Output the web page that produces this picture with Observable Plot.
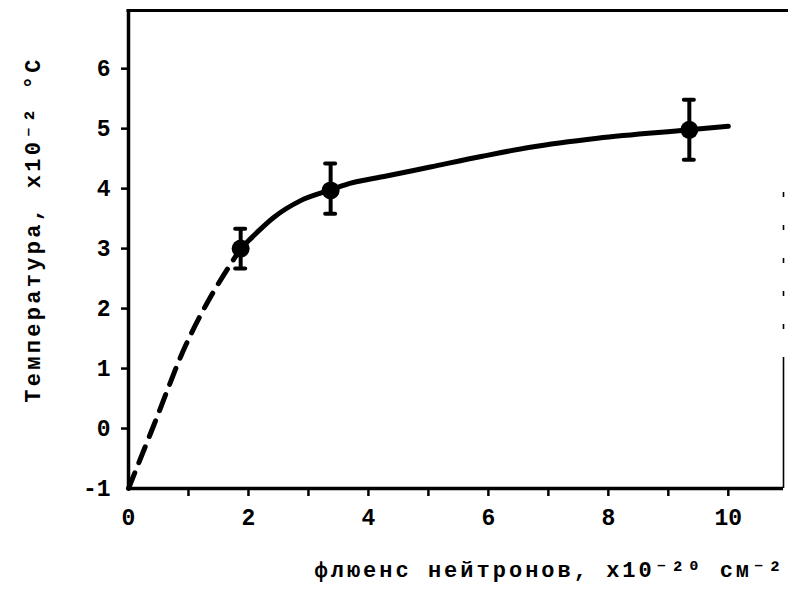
<!DOCTYPE html>
<html>
<head>
<meta charset="utf-8">
<script src="https://cdn.jsdelivr.net/npm/d3@7"></script>
<script src="https://cdn.jsdelivr.net/npm/@observablehq/plot@0.6"></script>
<style>
  html, body { margin: 0; padding: 0; background: #fff; }
  #chart { width: 788px; height: 593px; }
  .xlab text { letter-spacing: 3px; }
  .ylab text { letter-spacing: 3.3px; }
</style>
</head>
<body>
<div id="chart"></div>
<script>
// Measured points with error bars
const pointX = [1.87, 3.37, 9.35];
const pointY = [3.0, 3.97, 4.98];
const errLow = [2.67, 3.58, 4.48];
const errHigh = [3.33, 4.42, 5.48];

// Dashed (extrapolated) part of the curve
const dashX = [0, 0.42, 0.95, 1.4, 1.87];
const dashY = [-1, 0.05, 1.38, 2.25, 3.0];

// Solid fitted curve
const solidX = [1.87, 2.0, 2.42, 2.87, 3.37, 3.6, 4.3, 5.03, 5.9, 6.7, 7.82, 9.35, 10.0];
const solidY = [3.0, 3.13, 3.52, 3.8, 3.98, 4.06, 4.21, 4.36, 4.54, 4.69, 4.84, 4.98, 5.04];

// Axis ticks
const xMinorTicks = [1, 2, 3, 4, 5, 6, 7, 8, 9, 10];
const xTickLabels = [0, 2, 4, 6, 8, 10];
const yTicks = [0, 1, 2, 3, 4, 5, 6];
const yTickLabels = [-1, 0, 1, 2, 3, 4, 5, 6];

const xLabel = "флюенс нейтронов, x10⁻²⁰ см⁻²";
const yLabel = "Температура, x10⁻² °С";

const points = pointX.map((x, i) => ({x, y: pointY[i], lo: errLow[i], hi: errHigh[i]}));
const dash = dashX.map((x, i) => ({x, y: dashY[i]}));
const solid = solidX.map((x, i) => ({x, y: solidY[i]}));

const font = "'Liberation Mono', 'DejaVu Sans Mono', monospace";

const chart = Plot.plot({
  width: 788,
  height: 593,
  marginLeft: 128,
  marginRight: 5,
  marginTop: 10,
  marginBottom: 105,
  x: {domain: [0, 10.92], label: null},
  y: {domain: [-1, 6.97], label: null},
  style: {fontFamily: font, background: "white", color: "black"},
  marks: [
    // frame
    Plot.ruleY([-1], {strokeWidth: 3.5}),
    Plot.ruleX([0], {y1: -1, y2: 6.97, strokeWidth: 3.5}),
    Plot.ruleY([6.97], {strokeWidth: 3, insetRight: -6, insetLeft: -1.5}),
    Plot.ruleX([10.92], {y1: -1, y2: 1.1, strokeWidth: 1.6}),
    Plot.ruleX([10.92], {y1: 1.1, y2: 4.4, strokeWidth: 1.6, strokeDasharray: "5,28"}),
    // ticks
    Plot.axisX({ticks: xMinorTicks, tickSize: 8, tickFormat: () => "", strokeWidth: 2.5, label: null}),
    Plot.axisX({ticks: xTickLabels, tickSize: 0, tickPadding: 20, fontSize: 23, fontWeight: "bold", tickFormat: d => String(d), label: null}),
    Plot.axisY({ticks: yTicks, tickSize: 7, tickFormat: () => "", strokeWidth: 2.5, label: null}),
    Plot.axisY({ticks: yTickLabels, tickSize: 0, tickPadding: 18, fontSize: 23, fontWeight: "bold", tickFormat: d => String(d), label: null}),
    // curves
    Plot.line(dash, {x: "x", y: "y", curve: "catmull-rom", strokeWidth: 5, strokeDasharray: "17,11", strokeLinecap: "round"}),
    Plot.line(solid, {x: "x", y: "y", curve: "monotone-x", strokeWidth: 5, strokeLinecap: "round"}),
    // error bars
    Plot.ruleX(points, {x: "x", y1: "lo", y2: "hi", strokeWidth: 4}),
    Plot.ruleY(points, {y: "lo", x1: "x", x2: "x", insetLeft: -5, insetRight: -5, strokeWidth: 4, strokeLinecap: "round"}),
    Plot.ruleY(points, {y: "hi", x1: "x", x2: "x", insetLeft: -5, insetRight: -5, strokeWidth: 4, strokeLinecap: "round"}),
    Plot.dot(points, {x: "x", y: "y", r: 9, fill: "black"}),
    // axis titles
    Plot.text([xLabel], {text: d => d, frameAnchor: "bottom-left", dx: 186, dy: 88, textAnchor: "start", fontSize: 22, fontWeight: "bold", className: "xlab"}),
    Plot.text([yLabel], {text: d => d, frameAnchor: "left", textAnchor: "middle", rotate: -90, dx: -96, dy: -20, fontSize: 22, fontWeight: "bold", className: "ylab"})
  ]
});

document.getElementById("chart").appendChild(chart);
</script>
</body>
</html>
